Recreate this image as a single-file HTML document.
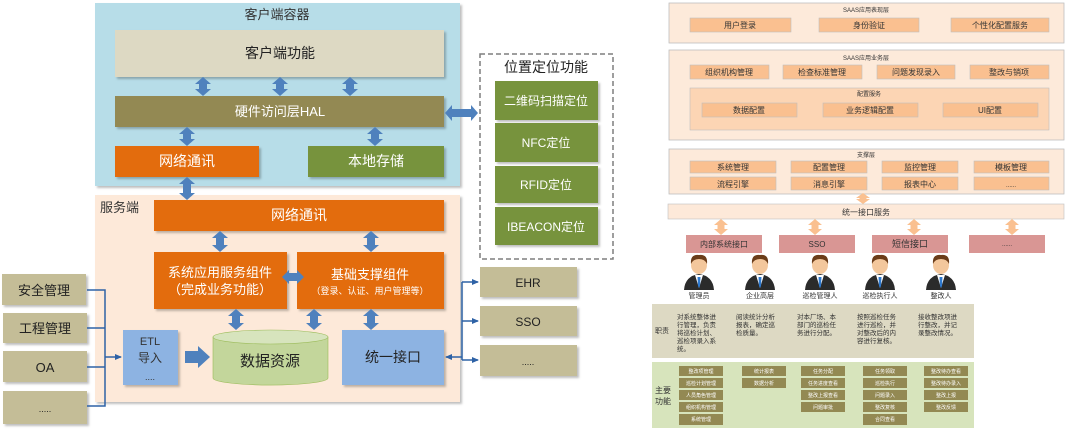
<!DOCTYPE html>
<html><head><meta charset="utf-8">
<style>
html,body{margin:0;padding:0;background:#fff;}
svg{display:block;font-family:"Liberation Sans","Noto Sans CJK SC",sans-serif;}
</style></head>
<body>
<svg width="1065" height="429" viewBox="0 0 1065 429" xmlns="http://www.w3.org/2000/svg">
<defs>
<marker id="la" markerWidth="8" markerHeight="8" refX="6" refY="4" orient="auto" markerUnits="userSpaceOnUse"><path d="M0,1 L7,4 L0,7 z" fill="#2e62a6"/></marker>
<filter id="sh" x="-5%" y="-5%" width="115%" height="120%"><feDropShadow dx="2" dy="2" stdDeviation="1" flood-color="#000" flood-opacity="0.25"/></filter>
<g id="person">
<path d="M-15,28 Q-14,14 0,12 Q14,14 15,28 Z" fill="#2b2b2b"/>
<path d="M-4,13 L0,26 L4,13 Z" fill="#fff"/>
<path d="M-1.5,15 L1.5,15 L1,24 L0,26 L-1,24 Z" fill="#2f7ad0"/>
<ellipse cx="0" cy="3" rx="8" ry="9" fill="#f3c79c"/>
<path d="M-8,2 Q-9,-8 0,-7 Q9,-8 8,2 Q6,-3 0,-3 Q-6,-3 -8,2 Z" fill="#6b3d1a"/>
</g>
</defs>

<!-- LEFT PANEL -->
<rect x="95" y="3" width="365" height="183" fill="#b7dde8" filter="url(#sh)"/>
<text x="277" y="19" font-size="13" text-anchor="middle" fill="#333">客户端容器</text>
<rect x="115" y="30" width="329" height="47" fill="#ddd9c3" filter="url(#sh)"/>
<text x="280" y="58" font-size="14" text-anchor="middle" fill="#222">客户端功能</text>
<rect x="115" y="96" width="329" height="31" fill="#938953" filter="url(#sh)"/>
<text x="280" y="116" font-size="13" text-anchor="middle" fill="#fff">硬件访问层HAL</text>
<rect x="115" y="146" width="144" height="31" fill="#e36c09" filter="url(#sh)"/>
<text x="187" y="166" font-size="14" text-anchor="middle" fill="#fff">网络通讯</text>
<rect x="308" y="146" width="136" height="31" fill="#77933c" filter="url(#sh)"/>
<text x="376" y="166" font-size="14" text-anchor="middle" fill="#fff">本地存储</text>

<rect x="95" y="195" width="365" height="207" fill="#fde9d9" filter="url(#sh)"/>
<text x="100" y="212" font-size="13" fill="#333">服务端</text>
<rect x="154" y="200" width="290" height="31" fill="#e36c09" filter="url(#sh)"/>
<text x="299" y="220" font-size="14" text-anchor="middle" fill="#fff">网络通讯</text>
<rect x="154" y="252" width="133" height="57" fill="#e36c09" filter="url(#sh)"/>
<text x="220" y="277" font-size="13" text-anchor="middle" fill="#fff">系统应用服务组件</text>
<text x="220" y="294" font-size="13" text-anchor="middle" fill="#fff">（完成业务功能）</text>
<rect x="297" y="252" width="147" height="57" fill="#e36c09" filter="url(#sh)"/>
<text x="370" y="279" font-size="13" text-anchor="middle" fill="#fff">基础支撑组件</text>
<text x="370" y="294" font-size="9" text-anchor="middle" fill="#fff">（登录、认证、用户管理等）</text>
<rect x="123" y="330" width="55" height="55" fill="#8db3e2" filter="url(#sh)"/>
<text x="150" y="345" font-size="11" text-anchor="middle" fill="#333">ETL</text>
<text x="150" y="362" font-size="12" text-anchor="middle" fill="#333">导入</text>
<text x="150" y="380" font-size="9" text-anchor="middle" fill="#333">....</text>
<path d="M185,351 L198,351 L198,346 L210,357 L198,368 L198,363 L185,363 Z" fill="#4f81bd"/>
<path d="M213,337 L213,378 A57,7 0 0 0 328,378 L328,337 Z" fill="#c3d69b" stroke="#9bbb59" stroke-width="0.6"/>
<ellipse cx="270.5" cy="337" rx="57.5" ry="7" fill="#d7e4bd" stroke="#9bbb59" stroke-width="0.6"/>
<text x="270" y="366" font-size="15" text-anchor="middle" fill="#222">数据资源</text>
<rect x="342" y="330" width="102" height="55" fill="#8db3e2" filter="url(#sh)"/>
<text x="393" y="362" font-size="14" text-anchor="middle" fill="#222">统一接口</text>

<!-- left sources -->
<g fill="#c4bd97" filter="url(#sh)">
<rect x="2" y="274" width="84" height="31"/>
<rect x="3" y="313" width="84" height="30"/>
<rect x="3" y="351" width="84" height="31"/>
<rect x="3" y="391" width="84" height="33"/>
</g>
<g font-size="13" text-anchor="middle" fill="#222">
<text x="44" y="295">安全管理</text>
<text x="45" y="333">工程管理</text>
<text x="45" y="372">OA</text>
<text x="45" y="412" font-size="9">.....</text>
</g>
<g stroke="#2e62a6" stroke-width="1.5" fill="none">
<path d="M87,290 L105,290 L105,406 L87,406"/>
<path d="M87,328 L105,328 M87,367 L105,367"/>
<path d="M105,357 L121,357" marker-end="url(#la)"/>
<path d="M462,282 L462,360"/>
<path d="M462,357 L446,357" marker-end="url(#la)"/>
<path d="M462,282 L478,282" marker-end="url(#la)"/>
<path d="M462,321 L478,321" marker-end="url(#la)"/>
<path d="M462,360 L478,360" marker-end="url(#la)"/>
</g>
<g fill="#c4bd97" filter="url(#sh)">
<rect x="480" y="267" width="97" height="30"/>
<rect x="480" y="306" width="97" height="30"/>
<rect x="480" y="345" width="97" height="31"/>
</g>
<g font-size="12" text-anchor="middle" fill="#222">
<text x="528" y="287">EHR</text>
<text x="528" y="326">SSO</text>
<text x="528" y="365" font-size="9">.....</text>
</g>

<!-- dashed box -->
<rect x="480" y="54" width="133" height="205" fill="#fff" stroke="#7f7f7f" stroke-width="1.5" stroke-dasharray="5,3"/>
<text x="546" y="72" font-size="14" text-anchor="middle" fill="#222">位置定位功能</text>
<g fill="#77933c" filter="url(#sh)">
<rect x="495" y="81" width="103" height="39"/>
<rect x="495" y="123" width="103" height="39"/>
<rect x="495" y="166" width="103" height="37"/>
<rect x="495" y="207" width="103" height="38"/>
</g>
<g font-size="12" text-anchor="middle" fill="#fff">
<text x="546" y="105">二维码扫描定位</text>
<text x="546" y="147">NFC定位</text>
<text x="546" y="189">RFID定位</text>
<text x="546" y="231">IBEACON定位</text>
</g>

<!-- blue double arrows -->
<g fill="#4f81bd">
<polygon points="203,77 211,84 207,84 207,89 211,89 203,96 195,89 199,89 199,84 195,84"/>
<polygon points="280,77 288,84 284,84 284,89 288,89 280,96 272,89 276,89 276,84 272,84"/>
<polygon points="350,77 358,84 354,84 354,89 358,89 350,96 342,89 346,89 346,84 342,84"/>
<polygon points="187,127 195,134 191,134 191,139 195,139 187,146 179,139 183,139 183,134 179,134"/>
<polygon points="375,127 383,134 379,134 379,139 383,139 375,146 367,139 371,139 371,134 367,134"/>
<polygon points="187,177 195,184 191,184 191,193 195,193 187,200 179,193 183,193 183,184 179,184"/>
<polygon points="220,231 228,238 224,238 224,245 228,245 220,252 212,245 216,245 216,238 212,238"/>
<polygon points="371,231 379,238 375,238 375,245 379,245 371,252 363,245 367,245 367,238 363,238"/>
<polygon points="236,309 244,316 240,316 240,323 244,323 236,330 228,323 232,323 232,316 228,316"/>
<polygon points="314,309 322,316 318,316 318,323 322,323 314,330 306,323 310,323 310,316 306,316"/>
<polygon points="371,309 379,316 375,316 375,323 379,323 371,330 363,323 367,323 367,316 363,316"/>
<polygon points="445,113 452,105 452,109 471,109 471,105 478,113 471,121 471,117 452,117 452,121"/>
<polygon points="282,277 289,270 289,273 297,273 297,270 304,277 297,284 297,281 289,281 289,284"/>
</g>

<!-- RIGHT PANEL -->
<rect x="669" y="3" width="395" height="40" fill="#fdeada" stroke="#bfbfbf" stroke-width="0.8"/>
<text x="866" y="12" font-size="6" text-anchor="middle" fill="#333">SAAS应用表现层</text>
<g fill="#fac090" stroke="#bfbfbf" stroke-width="0.6">
<rect x="690" y="18" width="101" height="14"/><rect x="819" y="18" width="100" height="14"/><rect x="951" y="18" width="98" height="14"/>
</g>
<g font-size="8" text-anchor="middle" fill="#333">
<text x="740" y="28">用户登录</text><text x="869" y="28">身份验证</text><text x="1000" y="28">个性化配置服务</text>
</g>
<rect x="669" y="50" width="395" height="90" fill="#fdeada" stroke="#bfbfbf" stroke-width="0.8"/>
<text x="866" y="60" font-size="6" text-anchor="middle" fill="#333">SAAS应用业务层</text>
<g fill="#fac090" stroke="#bfbfbf" stroke-width="0.6">
<rect x="690" y="65" width="79" height="14"/><rect x="783" y="65" width="79" height="14"/><rect x="877" y="65" width="78" height="14"/><rect x="970" y="65" width="79" height="14"/>
</g>
<g font-size="8" text-anchor="middle" fill="#333">
<text x="729" y="75">组织机构管理</text><text x="822" y="75">检查标准管理</text><text x="916" y="75">问题发现录入</text><text x="1009" y="75">整改与销项</text>
</g>
<rect x="690" y="88" width="359" height="42" fill="#fcd5b4" stroke="#bfbfbf" stroke-width="0.6"/>
<text x="869" y="96" font-size="6" text-anchor="middle" fill="#333">配置服务</text>
<g fill="#fac090" stroke="#bfbfbf" stroke-width="0.6">
<rect x="702" y="103" width="95" height="14"/><rect x="823" y="103" width="95" height="14"/><rect x="943" y="103" width="95" height="14"/>
</g>
<g font-size="8" text-anchor="middle" fill="#333">
<text x="749" y="113">数据配置</text><text x="870" y="113">业务逻辑配置</text><text x="990" y="113">UI配置</text>
</g>
<rect x="669" y="149" width="395" height="45" fill="#fdeada" stroke="#bfbfbf" stroke-width="0.8"/>
<text x="866" y="157" font-size="6" text-anchor="middle" fill="#333">支撑层</text>
<g fill="#fac090" stroke="#bfbfbf" stroke-width="0.6">
<rect x="690" y="161" width="86" height="12"/><rect x="791" y="161" width="76" height="12"/><rect x="882" y="161" width="76" height="12"/><rect x="974" y="161" width="75" height="12"/>
<rect x="690" y="177" width="86" height="13"/><rect x="791" y="177" width="76" height="13"/><rect x="882" y="177" width="76" height="13"/><rect x="974" y="177" width="75" height="13"/>
</g>
<g font-size="8" text-anchor="middle" fill="#333">
<text x="733" y="170">系统管理</text><text x="829" y="170">配置管理</text><text x="920" y="170">监控管理</text><text x="1011" y="170">模板管理</text>
<text x="733" y="187">流程引擎</text><text x="829" y="187">消息引擎</text><text x="920" y="187">报表中心</text><text x="1011" y="187" font-size="6">......</text>
</g>
<rect x="668" y="204" width="396" height="15" fill="#fde9d9" stroke="#bfbfbf" stroke-width="0.6"/>
<text x="866" y="215" font-size="8" text-anchor="middle" fill="#333">统一接口服务</text>
<g fill="#fac090">
<polygon points="863,193 870,198 866.5,198 866.5,199 870,199 863,204 856,199 859.5,199 859.5,198 856,198"/>
<polygon points="721,219 728,225 724.5,225 724.5,229 728,229 721,235 714,229 717.5,229 717.5,225 714,225"/>
<polygon points="815,219 822,225 818.5,225 818.5,229 822,229 815,235 808,229 811.5,229 811.5,225 808,225"/>
<polygon points="914,219 921,225 917.5,225 917.5,229 921,229 914,235 907,229 910.5,229 910.5,225 907,225"/>
<polygon points="1012,219 1019,225 1015.5,225 1015.5,229 1019,229 1012,235 1005,229 1008.5,229 1008.5,225 1005,225"/>
</g>
<g fill="#d99694">
<rect x="686" y="235" width="76" height="18"/><rect x="779" y="235" width="76" height="18"/><rect x="872" y="235" width="76" height="18"/><rect x="969" y="235" width="76" height="18"/>
</g>
<g font-size="8" text-anchor="middle" fill="#333">
<text x="724" y="247">内部系统接口</text><text x="817" y="247">SSO</text><text x="910" y="247" font-size="9">短信接口</text><text x="1007" y="246" font-size="6">......</text>
</g>
<use href="#person" x="699" y="262"/>
<use href="#person" x="760" y="262"/>
<use href="#person" x="820" y="262"/>
<use href="#person" x="880" y="262"/>
<use href="#person" x="941" y="262"/>
<g font-size="7" text-anchor="middle" fill="#333">
<text x="699" y="298">管理员</text><text x="760" y="298">企业高层</text><text x="820" y="298">巡检管理人</text><text x="880" y="298">巡检执行人</text><text x="941" y="298">整改人</text>
</g>
<rect x="652" y="304" width="322" height="54" fill="#ddd9c3"/>
<text x="655" y="333" font-size="7" fill="#333">职责</text>
<g font-size="6.5" fill="#333">
<text x="677" y="319">对系统整体进</text><text x="677" y="327">行管理，负责</text><text x="677" y="335">将巡检计划、</text><text x="677" y="343">巡检项录入系</text><text x="677" y="351">统。</text>
<text x="736" y="319">阅读统计分析</text><text x="736" y="327">报表，确定巡</text><text x="736" y="335">检质量。</text>
<text x="797" y="319">对本厂场、本</text><text x="797" y="327">部门的巡检任</text><text x="797" y="335">务进行分配。</text>
<text x="857" y="319">按照巡检任务</text><text x="857" y="327">进行巡检，并</text><text x="857" y="335">对整改后的内</text><text x="857" y="343">容进行复核。</text>
<text x="918" y="319">接收整改项进</text><text x="918" y="327">行整改，并记</text><text x="918" y="335">录整改情况。</text>
</g>
<rect x="652" y="362" width="322" height="66" fill="#d7e4bc"/>
<text x="655" y="393" font-size="8" fill="#333">主要</text>
<text x="655" y="404" font-size="8" fill="#333">功能</text>
<g fill="#938953">
<rect x="679" y="366" width="44" height="10"/><rect x="679" y="378" width="44" height="10"/><rect x="679" y="390" width="44" height="10"/><rect x="679" y="402" width="44" height="10"/><rect x="679" y="414" width="44" height="11"/>
<rect x="742" y="366" width="44" height="10"/><rect x="742" y="378" width="44" height="10"/>
<rect x="801" y="366" width="44" height="10"/><rect x="801" y="378" width="44" height="10"/><rect x="801" y="390" width="44" height="10"/><rect x="801" y="402" width="44" height="10"/>
<rect x="863" y="366" width="44" height="10"/><rect x="863" y="378" width="44" height="10"/><rect x="863" y="390" width="44" height="10"/><rect x="863" y="402" width="44" height="10"/><rect x="863" y="414" width="44" height="11"/>
<rect x="924" y="366" width="44" height="10"/><rect x="924" y="378" width="44" height="10"/><rect x="924" y="390" width="44" height="10"/><rect x="924" y="402" width="44" height="10"/>
</g>
<g font-size="5" text-anchor="middle" fill="#fff">
<text x="701" y="373">整改项管理</text><text x="701" y="385">巡检计划管理</text><text x="701" y="397">人员角色管理</text><text x="701" y="409">组织机构管理</text><text x="701" y="421">系统管理</text>
<text x="764" y="373">统计报表</text><text x="764" y="385">数据分析</text>
<text x="823" y="373">任务分配</text><text x="823" y="385">任务进度查看</text><text x="823" y="397">整改上报查看</text><text x="823" y="409">问题审批</text>
<text x="885" y="373">任务领取</text><text x="885" y="385">巡检执行</text><text x="885" y="397">问题录入</text><text x="885" y="409">整改复核</text><text x="885" y="421">合同查看</text>
<text x="946" y="373">整改待办查看</text><text x="946" y="385">整改待办录入</text><text x="946" y="397">整改上报</text><text x="946" y="409">整改反馈</text>
</g>
</svg>
</body></html>
